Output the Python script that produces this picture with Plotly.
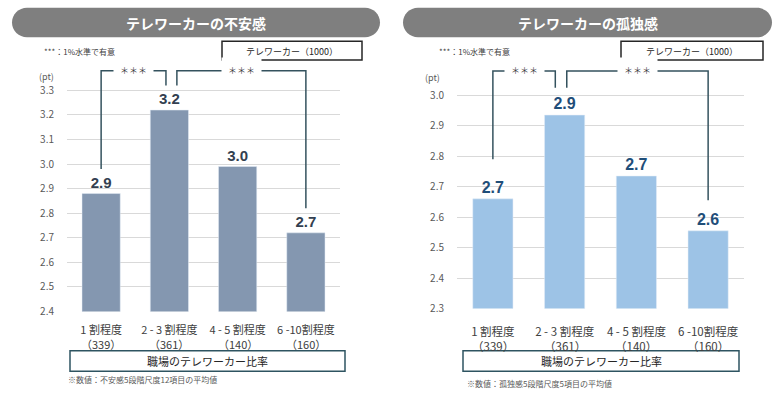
import plotly.graph_objects as go

# ---------------- data ----------------
categories = ["1 割程度", "2 - 3 割程度", "4 - 5 割程度", "6 -10割程度"]
counts = ["（339）", "（361）", "（140）", "（160）"]
anxiety_values = [2.88, 3.22, 2.99, 2.72]
loneliness_values = [2.66, 2.935, 2.735, 2.555]
anxiety_ticks = [2.4, 2.5, 2.6, 2.7, 2.8, 2.9, 3.0, 3.1, 3.2, 3.3]
loneliness_ticks = [2.3, 2.4, 2.5, 2.6, 2.7, 2.8, 2.9, 3.0]
title_left = "テレワーカーの不安感"
title_right = "テレワーカーの孤独感"
note_sig = "***：1%水準で有意"
legend_box = "テレワーカー（1000）"
xaxis_caption = "職場のテレワーカー比率"
foot_left = "※数値：不安感5段階尺度12項目の平均値"
foot_right = "※数値：孤独感5段階尺度5項目の平均値"
stars = "＊＊＊"

W, H = 780, 399
FONT = "Noto Sans CJK JP, Noto Sans, sans-serif"
BRACKET_COLOR = "#34525e"


def px(x):
    return x / W


def py(y):
    return 1 - y / H


fig = go.Figure()

fig.add_trace(go.Bar(
    x=categories, y=anxiety_values, xaxis="x", yaxis="y",
    marker=dict(color="#8497b0"), width=0.56,
    text=[f"{v:.1f}" for v in anxiety_values], textposition="outside",
    textfont=dict(family="Liberation Sans, Arial", size=15, color="#333f50", weight="bold"),
    cliponaxis=False, hoverinfo="skip",
))
fig.add_trace(go.Bar(
    x=categories, y=loneliness_values, xaxis="x2", yaxis="y2",
    marker=dict(color="#9dc3e6"), width=0.56,
    text=[f"{v:.1f}" for v in loneliness_values], textposition="outside",
    textfont=dict(family="Liberation Sans, Arial", size=16, color="#1f4e79", weight="bold"),
    cliponaxis=False, hoverinfo="skip",
))

common_y = dict(showgrid=True, gridcolor="#d9d9d9", gridwidth=1, zeroline=False,
                showline=False, ticks="", tickformat=".1f",
                tickfont=dict(family=FONT, size=10, color="#595959"))

fig.update_layout(
    width=W, height=H, margin=dict(l=0, r=0, t=0, b=0),
    paper_bgcolor="white", plot_bgcolor="white", showlegend=False,
    font=dict(family=FONT),
    xaxis=dict(domain=[px(67), px(340)], showgrid=False, showline=False, ticks="",
               tickfont=dict(family=FONT, size=11, color="#404040"),
               ticklabelstandoff=11, fixedrange=True),
    yaxis=dict(domain=[py(317), py(67)], range=[2.4, 3.4], tickvals=anxiety_ticks,
               ticklabelstandoff=12, **common_y),
    xaxis2=dict(domain=[px(457), px(744)], anchor="y2", showgrid=False, showline=False, ticks="",
                tickfont=dict(family=FONT, size=11.5, color="#404040"),
                ticklabelstandoff=15, fixedrange=True),
    yaxis2=dict(domain=[py(314), py(66)], range=[2.3, 2.3 + 248 / 310], anchor="x2",
                tickvals=loneliness_ticks, ticklabelstandoff=12, **common_y),
)

shapes = []
annotations = []


def rounded_pill(x0, y0, x1, y1, color):
    r = (y1 - y0) / 2
    k = 0.5523 * r
    path = (
        f"M {px(x0 + r)},{py(y0)} L {px(x1 - r)},{py(y0)} "
        f"C {px(x1 - r + k)},{py(y0)} {px(x1)},{py(y0 + r - k)} {px(x1)},{py(y0 + r)} "
        f"C {px(x1)},{py(y0 + r + k)} {px(x1 - r + k)},{py(y1)} {px(x1 - r)},{py(y1)} "
        f"L {px(x0 + r)},{py(y1)} "
        f"C {px(x0 + r - k)},{py(y1)} {px(x0)},{py(y0 + r + k)} {px(x0)},{py(y0 + r)} "
        f"C {px(x0)},{py(y0 + r - k)} {px(x0 + r - k)},{py(y0)} {px(x0 + r)},{py(y0)} Z"
    )
    shapes.append(dict(type="path", xref="paper", yref="paper", path=path,
                       fillcolor=color, line=dict(width=0), layer="below"))


def box(x0, y0, x1, y1, color, width):
    shapes.append(dict(type="rect", xref="paper", yref="paper",
                       x0=px(x0), x1=px(x1), y0=py(y1), y1=py(y0),
                       line=dict(color=color, width=width), fillcolor="rgba(0,0,0,0)"))


def text(x, y, s, size, color, xanchor="center", bold=False):
    annotations.append(dict(xref="paper", yref="paper", x=px(x), y=py(y), text=s,
                            showarrow=False, xanchor=xanchor, yanchor="middle",
                            font=dict(family=FONT, size=size, color=color,
                                      weight="bold" if bold else "normal")))


def bracket(xa, ya, xb, yb, top, xref, yref):
    shapes.append(dict(type="path", xref=xref, yref=yref,
                       path=f"M {xa},{ya} L {xa},{top} L {xb},{top} L {xb},{yb}",
                       line=dict(color=BRACKET_COLOR, width=1.5)))
    annotations.append(dict(xref=xref, yref=yref, x=(xa + xb) / 2, y=top, text=stars,
                            showarrow=False, bgcolor="white", borderpad=6,
                            font=dict(family=FONT, size=9, color="#404040")))


def count_labels(xref, y, size):
    for c, n in zip(categories, counts):
        annotations.append(dict(xref=xref, yref="paper", x=c, y=py(y), text=n,
                                showarrow=False, yanchor="middle",
                                font=dict(family=FONT, size=size, color="#404040")))


# Left panel decorations
rounded_pill(12, 8, 380, 38, "#7f7f7f")
text(196, 23, title_left, 14, "white", bold=True)
text(42, 52, note_sig, 8, "#404040", xanchor="left")
box(222, 42, 362, 61, "#262626", 1.5)
text(292, 52, legend_box, 9, "#262626")
text(37, 78, "(pt)", 9, "#595959", xanchor="left")
count_labels("x", 350, 11)
box(70, 357, 345, 378, "#2e5461", 1.5)
text(207, 367, xaxis_caption, 11, "#262626")
text(66, 386, foot_left, 8, "#595959", xanchor="left")

# Right panel decorations
rounded_pill(403, 8, 772, 38, "#7f7f7f")
text(588, 23, title_right, 14, "white", bold=True)
text(437, 52, note_sig, 8, "#404040", xanchor="left")
box(621, 42, 763, 61, "#262626", 1.5)
text(692, 52, legend_box, 9, "#262626")
text(423, 79, "(pt)", 9, "#595959", xanchor="left")
count_labels("x2", 352, 11.5)
box(463, 357, 739, 378, "#2e5461", 1.5)
text(601, 367, xaxis_caption, 11, "#262626")
text(465, 390, foot_right, 8, "#595959", xanchor="left")

# Significance brackets (anchored to bar values)
av, lv = anxiety_values, loneliness_values
bracket(0, av[0] + 0.10, 1 - 0.05, av[1] + 0.10, 3.38, "x", "y")
bracket(1 + 0.11, av[1] + 0.10, 3, av[3] + 0.10, 3.38, "x", "y")
bracket(0, lv[0] + 0.13, 1 - 0.13, lv[1] + 0.09, 3.08, "x2", "y2")
bracket(1 + 0.03, lv[1] + 0.09, 3, lv[3] + 0.10, 3.08, "x2", "y2")

fig.update_layout(shapes=shapes, annotations=annotations)
fig.write_html(
    "out.html",
    config={"displayModeBar": False},
    post_script="document.body.style.margin='0';document.body.style.overflow='hidden';",
)
